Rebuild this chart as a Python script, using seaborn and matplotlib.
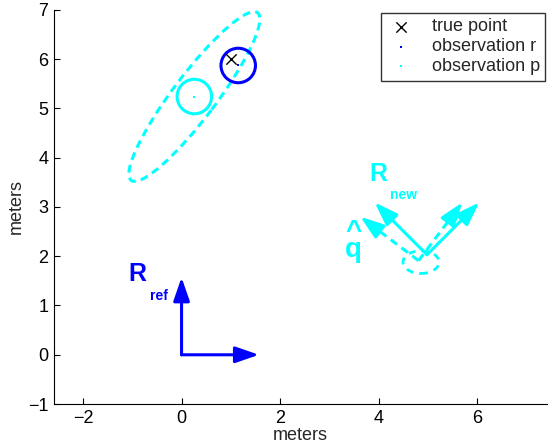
import matplotlib
matplotlib.use("Agg")
import matplotlib.pyplot as plt
from matplotlib.patches import Ellipse, Circle
import numpy as np
import seaborn as sns

# points (meters)
true_point = [1.0, 6.0]
obs_r = [1.15, 5.87]
obs_p = [0.26, 5.24]
circle_radius = 0.35

# covariance ellipse of observation p: full width, full height, angle (deg)
cov_p = [4.26, 0.88, 53]
# small orientation ellipse near the new frame
small_ell_center = [4.86, 1.88]
small_ell = [0.73, 0.46, 0]

# frames: origin x, origin y, angle (deg), axis length
frame_ref = [0.0, 0.0, 0, 1.57]
frame_new = [4.98, 2.03, 45, 1.5]
frame_q = [4.81, 1.91, 53, 1.48]

BLUE = (0, 0, 1)
CYAN = (0, 1, 1)

sns.set_style("ticks", {"xtick.direction": "in", "ytick.direction": "in"})
plt.rcParams["font.family"] = ["Liberation Sans", "DejaVu Sans"]

fig = plt.figure(figsize=(5.48, 4.45), dpi=100)
ax = fig.add_axes([0.0985, 0.092, 0.9, 0.886])


def draw_frame(frame, color, dashed=False):
    ox, oy, ang, length = frame
    for a in (ang, ang + 90):
        t = np.deg2rad(a)
        tip = (ox + length * np.cos(t), oy + length * np.sin(t))
        head = dict(arrowstyle="-|>,head_length=0.75,head_width=0.26",
                    color=color, lw=2.2, mutation_scale=19,
                    shrinkA=0, shrinkB=0)
        if dashed:
            back = (ox + (length - 0.3) * np.cos(t), oy + (length - 0.3) * np.sin(t))
            ax.plot([ox, back[0]], [oy, back[1]], color=color, lw=2.2,
                    dashes=(2.6, 1.8), solid_capstyle="butt")
            ax.annotate("", xy=tip, xytext=back, arrowprops=head)
        else:
            ax.annotate("", xy=tip, xytext=(ox, oy), arrowprops=head)


# ellipses and circles
ax.add_patch(Ellipse(obs_p, cov_p[0], cov_p[1], angle=cov_p[2], fill=False,
                     ec=CYAN, lw=2.2, ls=(0, (2.6, 1.7))))
ax.add_patch(Circle(obs_p, circle_radius, fill=False, ec=CYAN, lw=2.2))
ax.add_patch(Circle(obs_r, circle_radius, fill=False, ec=BLUE, lw=2.2))
ax.add_patch(Ellipse(small_ell_center, small_ell[0], small_ell[1], angle=small_ell[2],
                     fill=False, ec=CYAN, lw=2.0, ls=(0, (2.5, 2.2))))

# points
sns.scatterplot(x=[true_point[0]], y=[true_point[1]], marker="x", color="black",
                s=55, linewidth=1.0, label="true point", ax=ax, zorder=5)
sns.scatterplot(x=[obs_r[0]], y=[obs_r[1]], marker="s", color=BLUE, s=3,
                linewidth=0, label="observation r", ax=ax, zorder=5)
sns.scatterplot(x=[obs_p[0]], y=[obs_p[1]], marker="s", color=CYAN, s=3,
                linewidth=0, label="observation p", ax=ax, zorder=5)

# frames
draw_frame(frame_ref, BLUE)
draw_frame(frame_q, CYAN, dashed=True)
draw_frame(frame_new, CYAN)

# frame labels
ax.text(-0.9, 1.64, "R", color=BLUE, fontsize=18, fontweight="bold",
        ha="center", va="center")
ax.text(-0.46, 1.19, "ref", color=BLUE, fontsize=10, fontweight="bold",
        ha="center", va="center")
ax.text(3.99, 3.67, "R", color=CYAN, fontsize=18, fontweight="bold",
        ha="center", va="center")
ax.text(4.5, 3.24, "new", color=CYAN, fontsize=10, fontweight="bold",
        ha="center", va="center")
# q with hat, as one text
ax.text(3.49, 2.3, "^\nq", color=CYAN, fontsize=20, fontweight="bold",
        ha="center", va="center", multialignment="center", linespacing=0.6)

ax.set_xlim(-2.589, 7.42)
ax.set_ylim(-1, 7)
ax.set_xticks([-2, 0, 2, 4, 6])
ax.set_yticks(range(-1, 8))
ax.tick_params(labelsize=13, length=4, width=0.8, colors="black", pad=4)
ax.set_xlabel("meters", fontsize=13, labelpad=0)
ax.set_ylabel("meters", fontsize=13, labelpad=2)
for s in ("top", "right"):
    ax.spines[s].set_visible(False)
for s in ("left", "bottom"):
    ax.spines[s].set_linewidth(0.8)
    ax.spines[s].set_color("black")

leg = ax.legend(loc="upper right", bbox_to_anchor=(0.996, 0.992), borderaxespad=0,
                fontsize=13, frameon=True, fancybox=False, borderpad=0.3,
                labelspacing=0.16, handletextpad=0.9, handlelength=1.6)
leg.get_frame().set_edgecolor("black")
leg.get_frame().set_linewidth(1.0)

fig.savefig("out.png", dpi=100)
